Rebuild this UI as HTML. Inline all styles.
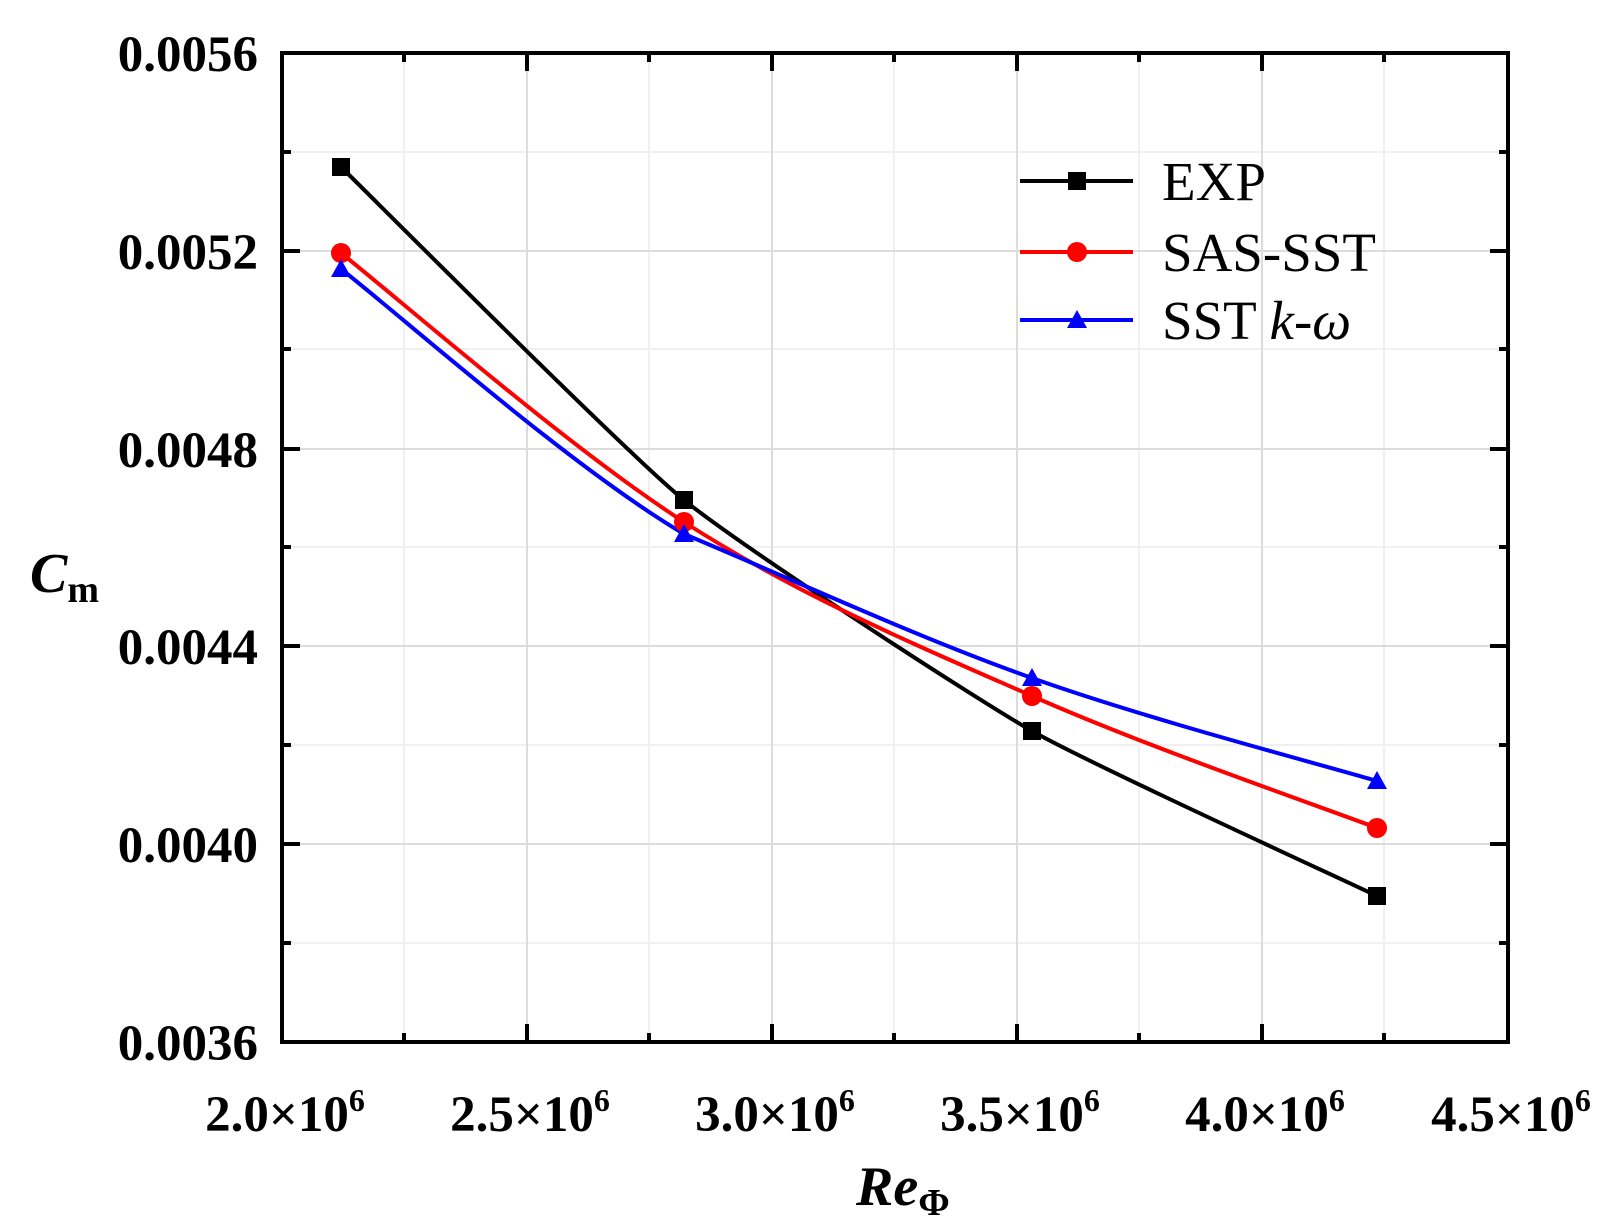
<!DOCTYPE html>
<html><head><meta charset="utf-8"><style>body{margin:0;background:#fff}svg{display:block}</style></head><body>
<svg width="1609" height="1224" viewBox="0 0 1609 1224" xmlns="http://www.w3.org/2000/svg" font-family="Liberation Serif, serif" font-weight="bold">
<g stroke="#f0f0f0" stroke-width="2">
<line x1="404" y1="53" x2="404" y2="1042"/><line x1="649" y1="53" x2="649" y2="1042"/><line x1="894" y1="53" x2="894" y2="1042"/><line x1="1139" y1="53" x2="1139" y2="1042"/><line x1="1384" y1="53" x2="1384" y2="1042"/>
<line x1="282" y1="152" x2="1508" y2="152"/><line x1="282" y1="349" x2="1508" y2="349"/><line x1="282" y1="547" x2="1508" y2="547"/><line x1="282" y1="745" x2="1508" y2="745"/><line x1="282" y1="943" x2="1508" y2="943"/>
</g>
<g stroke="#dcdcdc" stroke-width="2">
<line x1="527" y1="53" x2="527" y2="1042"/><line x1="772" y1="53" x2="772" y2="1042"/><line x1="1017" y1="53" x2="1017" y2="1042"/><line x1="1262" y1="53" x2="1262" y2="1042"/>
<line x1="282" y1="251" x2="1508" y2="251"/><line x1="282" y1="449" x2="1508" y2="449"/><line x1="282" y1="646" x2="1508" y2="646"/><line x1="282" y1="844" x2="1508" y2="844"/>
</g>
<g stroke="#000" stroke-width="4">
<line x1="527" y1="1042" x2="527" y2="1024"/><line x1="772" y1="1042" x2="772" y2="1024"/><line x1="1017" y1="1042" x2="1017" y2="1024"/><line x1="1262" y1="1042" x2="1262" y2="1024"/>
<line x1="404" y1="1042" x2="404" y2="1033"/><line x1="649" y1="1042" x2="649" y2="1033"/><line x1="894" y1="1042" x2="894" y2="1033"/><line x1="1139" y1="1042" x2="1139" y2="1033"/><line x1="1384" y1="1042" x2="1384" y2="1033"/>
<line x1="527" y1="53" x2="527" y2="71"/><line x1="772" y1="53" x2="772" y2="71"/><line x1="1017" y1="53" x2="1017" y2="71"/><line x1="1262" y1="53" x2="1262" y2="71"/>
<line x1="404" y1="53" x2="404" y2="62"/><line x1="649" y1="53" x2="649" y2="62"/><line x1="894" y1="53" x2="894" y2="62"/><line x1="1139" y1="53" x2="1139" y2="62"/><line x1="1384" y1="53" x2="1384" y2="62"/>
<line x1="282" y1="251" x2="300" y2="251"/><line x1="282" y1="449" x2="300" y2="449"/><line x1="282" y1="646" x2="300" y2="646"/><line x1="282" y1="844" x2="300" y2="844"/>
<line x1="282" y1="152" x2="291" y2="152"/><line x1="282" y1="349" x2="291" y2="349"/><line x1="282" y1="547" x2="291" y2="547"/><line x1="282" y1="745" x2="291" y2="745"/><line x1="282" y1="943" x2="291" y2="943"/>
<line x1="1508" y1="251" x2="1490" y2="251"/><line x1="1508" y1="449" x2="1490" y2="449"/><line x1="1508" y1="646" x2="1490" y2="646"/><line x1="1508" y1="844" x2="1490" y2="844"/>
<line x1="1508" y1="152" x2="1499" y2="152"/><line x1="1508" y1="349" x2="1499" y2="349"/><line x1="1508" y1="547" x2="1499" y2="547"/><line x1="1508" y1="745" x2="1499" y2="745"/><line x1="1508" y1="943" x2="1499" y2="943"/>
</g>
<rect x="282" y="53" width="1226" height="989" fill="none" stroke="#000" stroke-width="4"/>
<g font-size="51" text-anchor="end">
<text x="258" y="71">0.0056</text><text x="258" y="269">0.0052</text><text x="258" y="467">0.0048</text><text x="258" y="664">0.0044</text><text x="258" y="862">0.0040</text><text x="258" y="1060">0.0036</text>
</g>
<g font-size="51" text-anchor="middle">
<text x="285" y="1131">2.0×10<tspan dy="-20" font-size="32">6</tspan></text>
<text x="530" y="1131">2.5×10<tspan dy="-20" font-size="32">6</tspan></text>
<text x="775" y="1131">3.0×10<tspan dy="-20" font-size="32">6</tspan></text>
<text x="1020" y="1131">3.5×10<tspan dy="-20" font-size="32">6</tspan></text>
<text x="1265" y="1131">4.0×10<tspan dy="-20" font-size="32">6</tspan></text>
<text x="1511" y="1131">4.5×10<tspan dy="-20" font-size="32">6</tspan></text>
</g>
<text x="30" y="592" font-size="56" font-style="italic">C<tspan font-size="38" font-style="normal" dy="10">m</tspan></text>
<text x="856" y="1205" font-size="56" font-style="italic">Re<tspan font-size="38" font-style="normal" dy="10">Φ</tspan></text>
<path d="M341,167 C370,195 626,453 684,500 C742,547 974,698 1032,731 C1090,764 1348,882 1377,896" fill="none" stroke="#000" stroke-width="4"/>
<path d="M341,253 C398,298 569,448 684,522 C799,596 916,645 1032,696 C1147,747 1319,806 1377,828" fill="none" stroke="#f00" stroke-width="4"/>
<path d="M341,269 C398,313 569,466 684,534 C799,582 916,637 1032,678 C1147,719 1319,764 1377,781" fill="none" stroke="#00f" stroke-width="4"/>
<g fill="#000"><rect x="332" y="158" width="18" height="18"/><rect x="675" y="491" width="18" height="18"/><rect x="1023" y="722" width="18" height="18"/><rect x="1368" y="887" width="18" height="18"/></g>
<g fill="#f00"><circle cx="341" cy="253" r="10"/><circle cx="684" cy="522" r="10"/><circle cx="1032" cy="696" r="10"/><circle cx="1377" cy="828" r="10"/></g>
<g fill="#00f"><polygon points="341,259 331,277 351,277"/><polygon points="684,524 674,542 694,542"/><polygon points="1032,668 1022,686 1042,686"/><polygon points="1377,771 1367,789 1387,789"/></g>
<line x1="1020" y1="181" x2="1133" y2="181" stroke="#000" stroke-width="4"/><rect x="1068" y="172" width="18" height="18"/>
<line x1="1020" y1="252" x2="1133" y2="252" stroke="#f00" stroke-width="4"/><circle cx="1077" cy="252" r="10" fill="#f00"/>
<line x1="1020" y1="320" x2="1133" y2="320" stroke="#00f" stroke-width="4"/><polygon points="1077,310 1067,328 1087,328" fill="#00f"/>
<g font-size="55" font-weight="normal">
<text x="1162" y="200">EXP</text><text x="1162" y="271">SAS-SST</text><text x="1162" y="339">SST <tspan font-style="italic">k-ω</tspan></text>
</g>
</svg>
</body></html>
